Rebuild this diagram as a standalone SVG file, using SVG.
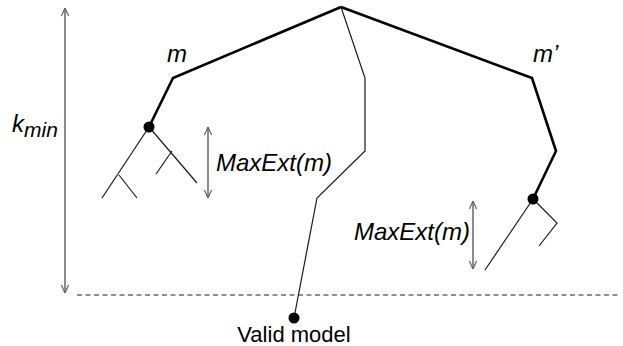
<svg xmlns="http://www.w3.org/2000/svg" width="623" height="346" viewBox="0 0 623 346">
  <style>
    .thick { fill: none; stroke: #000; stroke-width: 2.6; stroke-linejoin: miter; stroke-linecap: butt; }
    .thin { fill: none; stroke: #1a1a1a; stroke-width: 1.2; stroke-linejoin: miter; }
    .dot { fill: #000; }
    .dim { stroke: #666; stroke-width: 1.5; fill: none; marker-start: url(#arr); marker-end: url(#arr); }
    .lbl { font-family: "Liberation Sans", Arial, sans-serif; font-style: italic; font-size: 24px; fill: #000; }
    .plain { font-family: "Liberation Sans", Arial, sans-serif; font-size: 22px; fill: #000; }
    .dash { stroke: #222; stroke-width: 1.2; stroke-dasharray: 5 3.5; fill: none; }
  </style>
  <defs>
    <marker id="arr" viewBox="0 0 10 10" refX="9.5" refY="5" markerWidth="9" markerHeight="9" markerUnits="userSpaceOnUse" orient="auto-start-reverse">
      <path d="M0.5,1 L9.5,5 L0.5,9" fill="none" stroke="#666" stroke-width="1.4"/>
    </marker>
  </defs>

  <g id="connectors">
    <polyline class="thick" points="341,7 173,78 149,127"/>
    <polyline class="thick" points="341,7 532,78 556,151 533,199"/>
    <polyline class="thin" points="341,7 365,78 365,151 317,198 294,318"/>
    <polyline class="thin" points="149,127 102,198"/>
    <polyline class="thin" points="119,175 137,198"/>
    <polyline class="thin" points="149,127 197,183"/>
    <polyline class="thin" points="172,151 156,174"/>
    <polyline class="thin" points="533,199 485,270"/>
    <polyline class="thin" points="533,199 557,223 539,246"/>
  </g>

  <g id="node-m">
    <circle class="dot" cx="149" cy="127" r="5.5"/>
    <text class="lbl" x="167" y="62">m</text>
  </g>
  <g id="node-mprime">
    <circle class="dot" cx="533" cy="199" r="5.5"/>
    <text class="lbl" x="533" y="62">m’</text>
  </g>
  <g id="node-valid">
    <circle class="dot" cx="294" cy="318" r="5.5"/>
    <text class="plain" x="294" y="342" text-anchor="middle">Valid model</text>
  </g>

  <g id="kmin">
    <line class="dim" x1="65" y1="8" x2="65" y2="293"/>
    <text class="lbl" x="12" y="132">k<tspan font-size="21" dy="5">min</tspan></text>
  </g>

  <g id="maxext-m">
    <line class="dim" x1="208" y1="127" x2="208" y2="198"/>
    <text class="lbl" x="216" y="171">MaxExt(m)</text>
  </g>
  <g id="maxext-mprime">
    <line class="dim" x1="473" y1="201" x2="473" y2="269"/>
    <text class="lbl" x="354" y="240">MaxExt(m)</text>
  </g>

  <g id="threshold">
    <line class="dash" x1="77" y1="295" x2="620" y2="295"/>
  </g>
</svg>
